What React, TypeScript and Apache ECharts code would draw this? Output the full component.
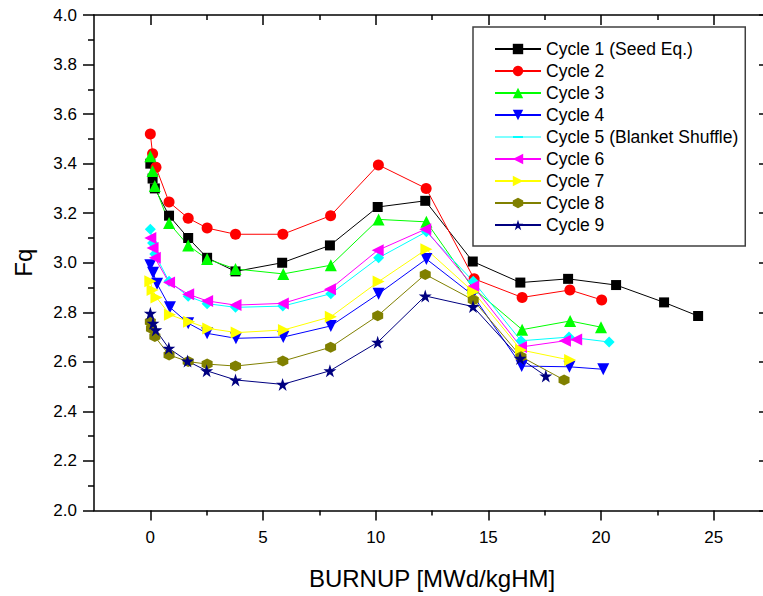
import React, { useEffect, useRef } from "react";
import * as echarts from "echarts";

const FONT = "Liberation Sans, Arial, sans-serif";

const seriesNames = [
  "Cycle 1 (Seed Eq.)",
  "Cycle 2",
  "Cycle 3",
  "Cycle 4",
  "Cycle 5 (Blanket Shuffle)",
  "Cycle 6",
  "Cycle 7",
  "Cycle 8",
  "Cycle 9",
];

const c1x = [0, 0.1, 0.2, 0.83, 1.68, 2.52, 3.78, 5.85, 7.97, 10.09, 12.2, 14.31, 16.42, 18.54, 20.67, 22.8, 24.31];
const c1y = [3.40, 3.34, 3.30, 3.19, 3.10, 3.02, 2.965, 3.00, 3.07, 3.225, 3.25, 3.005, 2.92, 2.935, 2.91, 2.84, 2.785];

const c2x = [0, 0.1, 0.25, 0.83, 1.68, 2.52, 3.78, 5.88, 8.0, 10.12, 12.24, 14.37, 16.5, 18.62, 20.03];
const c2y = [3.52, 3.44, 3.385, 3.245, 3.18, 3.14, 3.115, 3.115, 3.19, 3.395, 3.30, 2.935, 2.86, 2.89, 2.85];

const c3x = [0, 0.1, 0.2, 0.83, 1.68, 2.52, 3.78, 5.9, 8.01, 10.13, 12.25, 14.3, 16.5, 18.63, 20.0];
const c3y = [3.43, 3.37, 3.31, 3.16, 3.07, 3.015, 2.975, 2.955, 2.99, 3.175, 3.165, 2.90, 2.73, 2.765, 2.74];

const c4x = [0, 0.12, 0.3, 0.87, 1.68, 2.52, 3.8, 5.9, 8.01, 10.13, 12.25, 14.3, 16.48, 18.6, 20.1];
const c4y = [2.99, 2.96, 2.915, 2.82, 2.756, 2.715, 2.695, 2.70, 2.745, 2.875, 3.015, 2.87, 2.583, 2.58, 2.57];

const c5x = [0, 0.1, 0.2, 0.83, 1.68, 2.52, 3.78, 5.88, 8.01, 10.13, 12.25, 14.33, 16.45, 18.58, 20.36];
const c5y = [3.135, 3.08, 3.035, 2.925, 2.865, 2.835, 2.82, 2.825, 2.875, 3.02, 3.125, 2.925, 2.685, 2.70, 2.68];

const c6x = [0, 0.1, 0.2, 0.83, 1.68, 2.52, 3.78, 5.88, 7.97, 10.09, 12.2, 14.33, 16.45, 18.4, 18.9];
const c6y = [3.10, 3.06, 3.02, 2.92, 2.873, 2.846, 2.829, 2.836, 2.893, 3.05, 3.135, 2.905, 2.66, 2.685, 2.69];

const c7x = [0, 0.1, 0.27, 0.87, 1.72, 2.57, 3.83, 5.93, 8.01, 10.13, 12.25, 14.33, 16.45, 18.63];
const c7y = [2.925, 2.89, 2.86, 2.79, 2.762, 2.735, 2.718, 2.729, 2.782, 2.924, 3.054, 2.883, 2.648, 2.607];

const c8x = [0, 0.05, 0.2, 0.83, 1.68, 2.52, 3.78, 5.88, 8.0, 10.09, 12.2, 14.33, 16.45, 18.36];
const c8y = [2.762, 2.735, 2.702, 2.628, 2.601, 2.591, 2.583, 2.603, 2.659, 2.786, 2.953, 2.85, 2.621, 2.527];

const c9x = [0, 0.12, 0.24, 0.82, 1.65, 2.5, 3.78, 5.87, 7.97, 10.09, 12.2, 14.32, 16.41, 17.55];
const c9y = [2.796, 2.756, 2.729, 2.655, 2.603, 2.564, 2.527, 2.509, 2.564, 2.679, 2.866, 2.823, 2.614, 2.543];

const xMajorTicks = [0, 5, 10, 15, 20, 25];
const xMinorTicks = [2.5, 7.5, 12.5, 17.5, 22.5];

const colors = ["#000000", "#FF0000", "#00FF00", "#0000FF", "#00FFFF", "#FF00FF", "#FFFF00", "#808000", "#000080"];

const STAR = "path://M10,0 L12.245,6.91 L19.51,6.91 L13.63,11.18 L15.88,18.09 L10,13.82 L4.12,18.09 L6.37,11.18 L0.49,6.91 L7.755,6.91 Z";
const HEX = "path://M5,0 L9.33,2.5 L9.33,7.5 L5,10 L0.67,7.5 L0.67,2.5 Z";
const DOWN = "path://M0,0 L10,0 L5,9 Z";
const LEFT = "path://M9,0 L0,5 L9,10 Z";
const RIGHT = "path://M0,0 L9,5 L0,10 Z";

const symbols = ["rect", "circle", "triangle", DOWN, "diamond", LEFT, RIGHT, HEX, STAR];
const symbolSizes = [10, 11, 12, 12, 11, 12, 12, 11, 13];

const xs = [c1x, c2x, c3x, c4x, c5x, c6x, c7x, c8x, c9x];
const ys = [c1y, c2y, c3y, c4y, c5y, c6y, c7y, c8y, c9y];

export default function App() {
  const ref = useRef<HTMLDivElement>(null);
  useEffect(() => {
    if (!ref.current) return;
    const chart = echarts.init(ref.current, null, { renderer: "svg" });
    const axisLineStyle = { color: "#000", width: 1.5 };
    const baseX = { type: "value", min: -2.5, max: 27.5, splitLine: { show: false } };
    const option: any = {
      animation: false,
      backgroundColor: "#fff",
      textStyle: { fontFamily: FONT },
      grid: { left: 94, top: 15, right: 10, bottom: 85.5, containLabel: false },
      legend: {
        orient: "vertical",
        left: 473,
        top: 27,
        padding: [12, 7, 11, 21],
        itemWidth: 46,
        itemHeight: 13,
        itemGap: 2,
        borderColor: "#404040",
        borderWidth: 1.5,
        textStyle: { fontSize: 17.5, color: "#000", fontFamily: FONT, lineHeight: 20 },
        data: seriesNames.map((n, i) =>
          i === 4
            ? { name: n, icon: "path://M0,1 L46,1 L46,2 L0,2 Z M18,0.5 L28,0.5 L28,2.5 L18,2.5 Z" }
            : { name: n }
        ),
      },
      xAxis: [
        {
          ...baseX,
          position: "bottom",
          axisLine: { show: true, onZero: false, lineStyle: axisLineStyle },
          axisTick: { show: true, inside: false, length: 10, customValues: xMajorTicks, lineStyle: axisLineStyle },
          axisLabel: { customValues: xMajorTicks, fontSize: 17, color: "#000", margin: 18, fontFamily: FONT },
          name: "BURNUP [MWd/kgHM]",
          nameLocation: "middle",
          nameGap: 56,
          nameTextStyle: { fontSize: 24, color: "#000", fontFamily: FONT },
        },
        {
          ...baseX,
          position: "bottom",
          axisLine: { show: false, onZero: false },
          axisTick: { show: true, inside: false, length: 5, customValues: xMinorTicks, lineStyle: axisLineStyle },
          axisLabel: { show: false },
        },
        {
          ...baseX,
          position: "top",
          axisLine: { show: true, onZero: false, lineStyle: axisLineStyle },
          axisTick: { show: true, inside: true, length: 10, customValues: xMajorTicks, lineStyle: axisLineStyle },
          axisLabel: { show: false },
        },
        {
          ...baseX,
          position: "top",
          axisLine: { show: false, onZero: false },
          axisTick: { show: true, inside: true, length: 5, customValues: xMinorTicks, lineStyle: axisLineStyle },
          axisLabel: { show: false },
        },
      ],
      yAxis: [
        {
          type: "value",
          min: 2,
          max: 4,
          interval: 0.2,
          position: "left",
          splitLine: { show: false },
          axisLine: { show: true, onZero: false, lineStyle: axisLineStyle },
          axisTick: { show: true, inside: false, length: 11, lineStyle: axisLineStyle },
          minorTick: { show: true, splitNumber: 2, length: 6, lineStyle: { color: "#000", width: 1.5 } },
          axisLabel: { fontSize: 17, color: "#000", margin: 17, fontFamily: FONT, formatter: (v: number) => v.toFixed(1) },
          name: "Fq",
          nameLocation: "middle",
          nameGap: 59,
          nameTextStyle: { fontSize: 24, color: "#000", fontFamily: FONT },
        },
        {
          type: "value",
          min: 2,
          max: 4,
          interval: 0.2,
          position: "right",
          splitLine: { show: false },
          axisLine: { show: true, onZero: false, lineStyle: axisLineStyle },
          axisTick: { show: true, inside: true, length: 11, lineStyle: axisLineStyle },
          minorTick: { show: true, splitNumber: 2, length: 6, lineStyle: { color: "#000", width: 1.5 } },
          axisLabel: { show: false },
        },
      ],
      series: seriesNames.map((n, i) => ({
        name: n,
        type: "line",
        xAxisIndex: 0,
        yAxisIndex: 0,
        data: xs[i].map((x, j) => [x, ys[i][j]]),
        symbol: symbols[i],
        symbolSize: symbolSizes[i],
        showAllSymbol: true,
        color: colors[i],
        itemStyle: { color: colors[i] },
        lineStyle: { color: colors[i], width: 1 },
        emphasis: { disabled: true },
      })),
    };
    chart.setOption(option);
    return () => chart.dispose();
  }, []);
  return (
    <div style={{ position: "fixed", left: 0, top: 0, width: 763, height: 596, overflow: "hidden", background: "#fff" }}>
      <div ref={ref} style={{ width: 780, height: 596 }} />
    </div>
  );
}
